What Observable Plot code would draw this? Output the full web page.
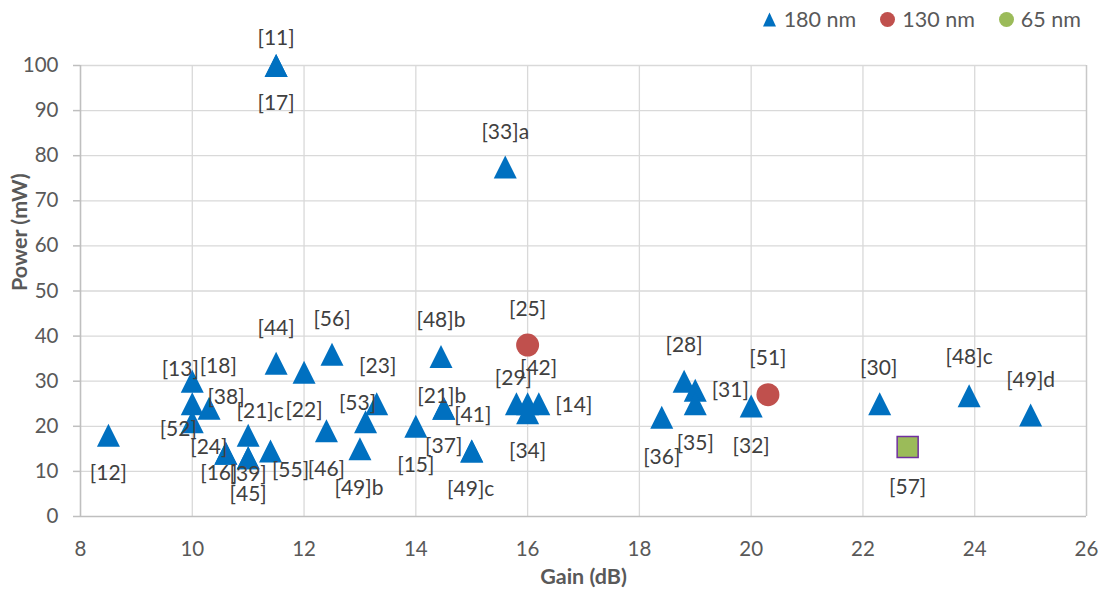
<!DOCTYPE html>
<html>
<head>
<meta charset="utf-8">
<script src="https://cdn.jsdelivr.net/npm/d3@7"></script>
<script src="https://cdn.jsdelivr.net/npm/@observablehq/plot@0.6"></script>
<style>
  html, body { margin: 0; padding: 0; background: #fff; }
  #wrap { position: relative; width: 1105px; height: 599px; }
  #legend {
    position: absolute; top: 0; left: 0; width: 1105px; height: 38px;
    display: flex; justify-content: flex-end; align-items: center;
    padding-right: 24px; box-sizing: border-box; gap: 24px;
    font-family: Lato, sans-serif; font-size: 21.5px; color: #595959;
  }
  #legend .item { display: flex; align-items: center; gap: 7px; }
  #legend svg { display: block; }
</style>
</head>
<body>
<div id="wrap">
  <div id="chart"></div>
  <div id="legend"></div>
</div>
<script>
// Axis ticks
const xTicks = [8, 10, 12, 14, 16, 18, 20, 22, 24, 26];
const yTicks = [0, 10, 20, 30, 40, 50, 60, 70, 80, 90, 100];

// 180 nm designs: reference, gain (dB), power (mW)
const refs180 = ["[12]", "[13]", "[18]", "[52]", "[38]", "[24]", "[16]", "[21]c", "[39]", "[45]",
  "[55]", "[44]", "[11]", "[17]", "[22]", "[56]", "[46]", "[49]b", "[53]", "[23]",
  "[15]", "[48]b", "[21]b", "[41]", "[37]", "[49]c", "[29]", "[42]", "[14]", "[34]",
  "[33]a", "[28]", "[31]", "[35]", "[36]", "[32]", "[30]", "[48]c", "[49]d"];
const gain180 = [8.5, 10, 10, 10, 10.3, 10.6, 10.6, 11, 11, 11,
  11.4, 11.5, 11.5, 11.5, 12, 12.5, 12.4, 13, 13.1, 13.3,
  14, 14.45, 14.5, 14.5, 15, 15, 15.8, 16, 16.2, 16,
  15.6, 18.8, 19, 19, 18.4, 20, 22.3, 23.9, 25];
const power180 = [18, 30, 25, 21, 24, 14, 14, 18, 13, 13,
  14.5, 34, 100, 100, 32, 36, 19, 15, 21, 25,
  20, 35.5, 24, 24, 14.5, 14.5, 25, 25, 25, 23,
  77.5, 30, 28, 25, 22, 24.5, 25, 26.8, 22.5];

// 130 nm designs
const refs130 = ["[25]", "[51]"];
const gain130 = [16, 20.3];
const power130 = [38, 27];

// 65 nm designs
const refs65 = ["[57]"];
const gain65 = [22.8];
const power65 = [15.4];

const seriesNames = ["180 nm", "130 nm", "65 nm"];
const seriesColors = ["#0070C0", "#C0504D", "#9BBB59"];

// Pixel nudges for each data label, so crowded labels stay readable
const labelNudge = {
  "[12]": [0, 38], "[13]": [-12, -12], "[18]": [26, -37], "[52]": [-14, 7], "[38]": [17, -11],
  "[24]": [-17, -6], "[16]": [-7, 20], "[21]c": [12, -24], "[39]": [0, 16], "[45]": [0, 36],
  "[55]": [20, 19], "[44]": [0, -35], "[11]": [0, -27], "[17]": [0, 38], "[22]": [0, 38],
  "[56]": [0, -35], "[46]": [0, 38], "[49]b": [-1, 39], "[53]": [-8, -19], "[23]": [1, -37],
  "[15]": [0, 39], "[48]b": [0, -36], "[21]b": [-2, -12], "[41]": [29, 7], "[37]": [-28, -5],
  "[49]c": [-1, 38], "[29]": [-3, -25], "[42]": [11, -35], "[14]": [35, 2], "[34]": [0, 38],
  "[33]a": [0, -35], "[28]": [0, -36], "[31]": [35, 0], "[35]": [0, 40], "[36]": [0, 40],
  "[32]": [0, 40], "[30]": [-1, -35], "[48]c": [0, -38], "[49]d": [0, -35],
  "[25]": [0, -36], "[51]": [0, -36], "[57]": [0, 40]
};

const toRows = (refs, gains, powers) => refs.map((ref, i) => ({ref, gain: gains[i], power: powers[i]}));
const pts180 = toRows(refs180, gain180, power180);
const pts130 = toRows(refs130, gain130, power130);
const pts65 = toRows(refs65, gain65, power65);

// Marker shapes centred on the data point
const triangleUp = {
  draw(ctx, size) {
    const r = Math.sqrt(size / Math.PI);
    ctx.moveTo(0, -r);
    ctx.lineTo(r, r);
    ctx.lineTo(-r, r);
    ctx.closePath();
  }
};
const squareBox = {
  draw(ctx, size) {
    const r = Math.sqrt(size / Math.PI);
    ctx.rect(-r, -r, 2 * r, 2 * r);
  }
};

const labelMarks = [...pts180, ...pts130, ...pts65].map(d => {
  const [dx, dy] = labelNudge[d.ref] || [0, -36];
  return Plot.text([d], {x: "gain", y: "power", text: "ref", dx, dy, fill: "#404040", fontSize: 21});
});

const chart = Plot.plot({
  width: 1105,
  height: 599,
  marginLeft: 80,
  marginRight: 19,
  marginTop: 65,
  marginBottom: 83,
  x: {domain: [8, 26]},
  y: {domain: [0, 100]},
  style: {fontFamily: "Lato, sans-serif", fontSize: "20px", background: "white", color: "#595959"},
  marks: [
    Plot.gridY(yTicks.filter(t => t > 0), {stroke: "#d9d9d9", strokeOpacity: 1, strokeWidth: 1.3}),
    Plot.gridX(xTicks.filter(t => t > 8 && t < 26), {stroke: "#d9d9d9", strokeOpacity: 1, strokeWidth: 1.3}),
    Plot.ruleX([26], {stroke: "#c8c8c8", strokeWidth: 1.5}),
    Plot.ruleX([8], {stroke: "#bfbfbf", strokeWidth: 1.6}),
    Plot.ruleY([0], {stroke: "#bfbfbf", strokeWidth: 1.6}),
    Plot.axisY(yTicks, {tickSize: 7, tickPadding: 15, stroke: "#bfbfbf", strokeWidth: 1.5, fill: "#595959", fontSize: 20.5, label: null}),
    Plot.axisX(xTicks, {tickSize: 0, tickPadding: 25, fill: "#595959", fontSize: 20.5, label: null}),
    Plot.text(["Power (mW)"], {text: d => d, frameAnchor: "left", rotate: -90, dx: -60, fontWeight: "bold", fill: "#595959", fontSize: 21.5}),
    Plot.text(["Gain (dB)"], {text: d => d, frameAnchor: "bottom", dy: 67, fontWeight: "bold", fill: "#595959", fontSize: 21.5}),
    Plot.dot(pts180, {x: "gain", y: "power", symbol: triangleUp, r: 11.5, fill: seriesColors[0]}),
    Plot.dot(pts130, {x: "gain", y: "power", symbol: "circle", r: 11.5, fill: seriesColors[1]}),
    Plot.dot(pts65, {x: "gain", y: "power", symbol: squareBox, r: 10.5, fill: seriesColors[2], stroke: "#7030A0", strokeWidth: 1.5}),
    ...labelMarks
  ]
});
document.getElementById("chart").append(chart);

// Legend across the top right
const legend = d3.select("#legend");
seriesNames.forEach((name, i) => {
  const item = legend.append("div").attr("class", "item");
  const svg = item.append("svg").attr("width", 15).attr("height", 15);
  if (i === 0) {
    svg.append("path").attr("d", "M7.5,0.5L14,14.5L1,14.5Z").attr("fill", seriesColors[i]);
  } else {
    svg.append("circle").attr("cx", 7.5).attr("cy", 7.5).attr("r", 7.5).attr("fill", seriesColors[i]);
  }
  item.append("span").text(name);
});
</script>
</body>
</html>
